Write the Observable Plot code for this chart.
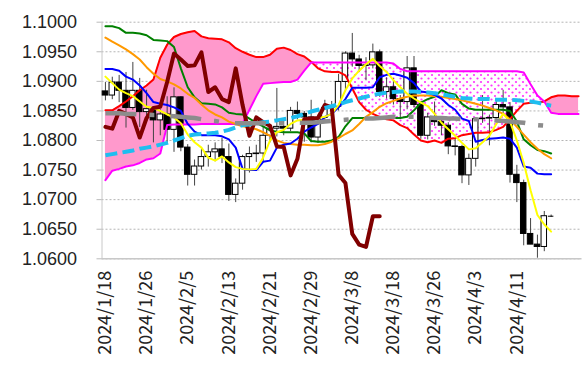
<!DOCTYPE html>
<html><head><meta charset="utf-8">
<script src="https://cdn.jsdelivr.net/npm/d3@7"></script>
<script src="https://cdn.jsdelivr.net/npm/@observablehq/plot@0.6"></script>
<style>
html,body{margin:0;padding:0;background:#fff;}
#chart svg{display:block;}
</style></head><body><div id="chart"></div>
<script>
const dates = ["2024/1/18","2024/1/19","2024/1/22","2024/1/23","2024/1/24","2024/1/25","2024/1/26","2024/1/29","2024/1/30","2024/1/31","2024/2/1","2024/2/2","2024/2/5","2024/2/6","2024/2/7","2024/2/8","2024/2/9","2024/2/12","2024/2/13","2024/2/14","2024/2/15","2024/2/16","2024/2/19","2024/2/20","2024/2/21","2024/2/22","2024/2/23","2024/2/26","2024/2/27","2024/2/28","2024/2/29","2024/3/1","2024/3/4","2024/3/5","2024/3/6","2024/3/7","2024/3/8","2024/3/11","2024/3/12","2024/3/13","2024/3/14","2024/3/15","2024/3/18","2024/3/19","2024/3/20","2024/3/21","2024/3/22","2024/3/25","2024/3/26","2024/3/27","2024/3/28","2024/3/29","2024/4/1","2024/4/2","2024/4/3","2024/4/4","2024/4/5","2024/4/8","2024/4/9","2024/4/10","2024/4/11","2024/4/12","2024/4/15","2024/4/16","2024/4/17","2024/4/18","2024/4/19","2024/4/22","2024/4/23","2024/4/24"];
const xTickIndex = [0,6,12,18,24,30,36,42,48,54,60];
const xTickLabels = ["2024/1/18","2024/1/26","2024/2/5","2024/2/13","2024/2/21","2024/2/29","2024/3/8","2024/3/18","2024/3/26","2024/4/3","2024/4/11"];
const yTicks = [1.06,1.065,1.07,1.075,1.08,1.085,1.09,1.095,1.10];

const open = [1.0883,1.0876,1.0898,1.0884,1.0855,1.0884,1.0848,1.0853,1.0834,1.0844,1.0818,1.0873,1.0788,1.0742,1.0756,1.0772,1.0780,1.0785,1.0772,1.0708,1.0727,1.0772,1.0777,1.0778,1.0808,1.0820,1.0823,1.0820,1.0850,1.0845,1.0839,1.0805,1.0838,1.0855,1.0857,1.0899,1.0947,1.0937,1.0926,1.0927,1.0949,1.0882,1.0890,1.0870,1.0865,1.0922,1.0860,1.0808,1.0839,1.0831,1.0825,1.0790,1.0789,1.0741,1.0769,1.0836,1.0837,1.0838,1.0860,1.0856,1.0742,1.0728,1.0642,1.0624,1.0620,1.0672];
const high = [1.0898,1.0907,1.0910,1.0915,1.0932,1.0905,1.0885,1.0855,1.0852,1.0874,1.0889,1.0874,1.0793,1.0767,1.0785,1.0792,1.0796,1.0804,1.0794,1.0735,1.0775,1.0789,1.0792,1.0824,1.0824,1.0888,1.0836,1.0856,1.0865,1.0849,1.0868,1.0843,1.0868,1.0866,1.0912,1.0950,1.0981,1.0944,1.0940,1.0963,1.0953,1.0906,1.0905,1.0876,1.0942,1.0942,1.0866,1.0846,1.0865,1.0838,1.0830,1.0803,1.0792,1.0777,1.0837,1.0876,1.0843,1.0867,1.0885,1.0864,1.0758,1.0733,1.0668,1.0640,1.0680,1.0674];
const low = [1.0867,1.0869,1.0864,1.0821,1.0851,1.0822,1.0838,1.0796,1.0808,1.0795,1.0780,1.0781,1.0723,1.0723,1.0750,1.0755,1.0764,1.0761,1.0697,1.0695,1.0716,1.0745,1.0763,1.0762,1.0796,1.0806,1.0808,1.0815,1.0835,1.0797,1.0796,1.0795,1.0830,1.0837,1.0850,1.0882,1.0924,1.0915,1.0901,1.0921,1.0873,1.0870,1.0860,1.0837,1.0852,1.0855,1.0802,1.0801,1.0824,1.0808,1.0776,1.0774,1.0727,1.0724,1.0755,1.0829,1.0791,1.0830,1.0845,1.0728,1.0695,1.0622,1.0624,1.0601,1.0612,1.0670];
const close = [1.0876,1.0898,1.0884,1.0855,1.0884,1.0848,1.0853,1.0834,1.0844,1.0818,1.0873,1.0788,1.0742,1.0756,1.0772,1.0780,1.0785,1.0772,1.0708,1.0727,1.0772,1.0777,1.0778,1.0808,1.0820,1.0823,1.0820,1.0850,1.0845,1.0839,1.0805,1.0838,1.0855,1.0857,1.0899,1.0947,1.0937,1.0926,1.0927,1.0949,1.0882,1.0890,1.0870,1.0865,1.0922,1.0860,1.0808,1.0839,1.0831,1.0825,1.0790,1.0789,1.0741,1.0769,1.0836,1.0837,1.0838,1.0860,1.0856,1.0742,1.0728,1.0642,1.0624,1.0620,1.0672,1.0672];

const yellowLine = [1.0908,1.0897,1.0886,1.0880,1.0875,1.0866,1.0857,1.0855,1.0850,1.0844,1.0839,1.0829,1.0810,1.0797,1.0788,1.0771,1.0766,1.0773,1.0763,1.0755,1.0752,1.0751,1.0752,1.0771,1.0800,1.0814,1.0818,1.0828,1.0834,1.0835,1.0836,1.0838,1.0840,1.0845,1.0860,1.0885,1.0905,1.0918,1.0929,1.0938,1.0926,1.0916,1.0902,1.0890,1.0879,1.0871,1.0864,1.0858,1.0845,1.0830,1.0819,1.0808,1.0796,1.0785,1.0787,1.0797,1.0808,1.0828,1.0845,1.0832,1.0800,1.0762,1.0716,1.0674,1.0658,1.0646];
const blueLine = [1.0921,1.0921,1.0918,1.0908,1.0903,1.0893,1.0880,1.0865,1.0862,1.0860,1.0856,1.0850,1.0828,1.0815,1.0809,1.0809,1.0809,1.0807,1.0802,1.0788,1.0752,1.0750,1.0750,1.0764,1.0766,1.0788,1.0793,1.0795,1.0803,1.0815,1.0822,1.0828,1.0840,1.0845,1.0856,1.0870,1.0889,1.0889,1.0889,1.0890,1.0907,1.0911,1.0913,1.0910,1.0906,1.0897,1.0883,1.0881,1.0877,1.0871,1.0860,1.0852,1.0837,1.0833,1.0798,1.0801,1.0803,1.0804,1.0805,1.0803,1.0788,1.0756,1.0754,1.0744,1.0743,1.0743];
const greenLine = [1.0993,1.0993,1.0990,1.0982,1.0982,1.0981,1.0978,1.0970,1.0969,1.0968,1.0958,1.0922,1.0890,1.0873,1.0863,1.0862,1.0861,1.0856,1.0847,1.0845,1.0844,1.0837,1.0830,1.0824,1.0817,1.0815,1.0814,1.0814,1.0814,1.0812,1.0799,1.0798,1.0798,1.0800,1.0806,1.0824,1.0838,1.0838,1.0838,1.0838,1.0838,1.0838,1.0838,1.0838,1.0840,1.0851,1.0864,1.0870,1.0874,1.0885,1.0880,1.0878,1.0862,1.0854,1.0852,1.0852,1.0852,1.0852,1.0852,1.0850,1.0832,1.0802,1.0792,1.0784,1.0782,1.0778];
const orangeLine = [1.0974,1.0967,1.0961,1.0954,1.0946,1.0937,1.0924,1.0913,1.0904,1.0900,1.0895,1.0888,1.0879,1.0872,1.0861,1.0851,1.0844,1.0839,1.0832,1.0828,1.0824,1.0822,1.0819,1.0814,1.0808,1.0800,1.0796,1.0794,1.0793,1.0793,1.0792,1.0792,1.0794,1.0798,1.0804,1.0811,1.0817,1.0828,1.0840,1.0848,1.0857,1.0863,1.0867,1.0871,1.0874,1.0876,1.0876,1.0876,1.0875,1.0874,1.0872,1.0870,1.0868,1.0865,1.0862,1.0859,1.0855,1.0851,1.0845,1.0836,1.0823,1.0810,1.0797,1.0786,1.0777,1.0770];
const cyanLine = [1.0775,1.0777,1.0779,1.0781,1.0783,1.0786,1.0788,1.0790,1.0793,1.0796,1.0800,1.0804,1.0808,1.0810,1.0811,1.0812,1.0813,1.0815,1.0818,1.0822,1.0826,1.0827,1.0829,1.0831,1.0832,1.0834,1.0836,1.0838,1.0841,1.0845,1.0849,1.0852,1.0855,1.0858,1.0861,1.0865,1.0868,1.0871,1.0874,1.0877,1.0879,1.0881,1.0882,1.0883,1.0883,1.0883,1.0882,1.0881,1.0880,1.0878,1.0876,1.0874,1.0872,1.0871,1.0870,1.0870,1.0870,1.0869,1.0869,1.0869,1.0868,1.0867,1.0866,1.0864,1.0861,1.0859];
const grayLine = [1.0846,1.0846,1.0846,1.0845,1.0845,1.0844,1.0844,1.0843,1.0843,1.0842,1.0841,1.0840,1.0839,1.0838,1.0836,1.0834,1.0833,1.0831,1.0830,1.0829,1.0829,1.0829,1.0829,1.0829,1.0829,1.0829,1.0829,1.0830,1.0830,1.0830,1.0830,1.0831,1.0832,1.0833,1.0834,1.0835,1.0836,1.0837,1.0837,1.0837,1.0838,1.0839,1.0840,1.0840,1.0840,1.0840,1.0839,1.0839,1.0838,1.0838,1.0837,1.0837,1.0836,1.0836,1.0836,1.0835,1.0835,1.0834,1.0833,1.0832,1.0831,1.0830,1.0828,1.0826,1.0825,1.0824];
const spanA = [1.0851,1.0851,1.0858,1.0866,1.0875,1.0885,1.0893,1.0903,1.0940,1.0962,1.0975,1.0980,1.0983,1.0985,1.0976,1.0973,1.0972,1.0971,1.0966,1.0956,1.0950,1.0945,1.0941,1.0941,1.0945,1.0955,1.0957,1.0953,1.0946,1.0942,1.0933,1.0922,1.0917,1.0916,1.0916,1.0910,1.0888,1.0865,1.0852,1.0845,1.0840,1.0836,1.0834,1.0826,1.0821,1.0810,1.0800,1.0797,1.0800,1.0796,1.0803,1.0804,1.0809,1.0811,1.0813,1.0813,1.0814,1.0818,1.0823,1.0836,1.0850,1.0862,1.0864,1.0864,1.0866,1.0873,1.0876,1.0876,1.0875,1.0875];
const spanB = [1.0733,1.0749,1.0752,1.0756,1.0758,1.0762,1.0768,1.0770,1.0778,1.0826,1.0827,1.0827,1.0827,1.0827,1.0828,1.0828,1.0828,1.0828,1.0828,1.0828,1.0829,1.0852,1.0875,1.0896,1.0897,1.0898,1.0899,1.0899,1.0903,1.0918,1.0932,1.0932,1.0932,1.0932,1.0932,1.0932,1.0932,1.0932,1.0932,1.0932,1.0932,1.0932,1.0930,1.0921,1.0917,1.0917,1.0917,1.0917,1.0917,1.0917,1.0917,1.0917,1.0917,1.0917,1.0917,1.0917,1.0917,1.0917,1.0917,1.0917,1.0917,1.0915,1.0895,1.0876,1.0866,1.0847,1.0845,1.0845,1.0845,1.0845];
const chikou = [1.0823,1.0820,1.0850,1.0845,1.0839,1.0805,1.0838,1.0855,1.0857,1.0899,1.0947,1.0937,1.0926,1.0927,1.0949,1.0882,1.0890,1.0870,1.0865,1.0922,1.0860,1.0808,1.0839,1.0831,1.0825,1.0790,1.0789,1.0741,1.0769,1.0836,1.0837,1.0838,1.0860,1.0856,1.0742,1.0728,1.0642,1.0624,1.0620,1.0672,1.0672];

const candles = close.map((c, i) => ({i, date: dates[i], o: open[i], h: high[i], l: low[i], c}));
const up = candles.filter(d => d.c > d.o);
const down = candles.filter(d => d.c < d.o);
const doji = candles.filter(d => d.c === d.o);
const cloud = spanA.map((a, i) => ({i, a, b: spanB[i], top: Math.max(a, spanB[i])}));
const series = arr => arr.map((v, i) => ({i, v}));
const halfW = 0.4;

const lineOpts = (stroke, w, extra = {}) => Object.assign({x: "i", y: "v", stroke, strokeWidth: w, strokeLinejoin: "round", strokeLinecap: "round"}, extra);

const chart = Plot.plot({
  width: 583,
  height: 379,
  marginLeft: 101.5,
  marginRight: 1.5,
  marginTop: 21.7,
  marginBottom: 120.7,
  x: {type: "linear", domain: [-0.5, 69.5], axis: null},
  y: {domain: [1.06, 1.10], axis: null},
  style: {fontFamily: "'Noto Sans CJK JP', 'Liberation Sans', sans-serif", background: "#fff", overflow: "visible"},
  marks: [
    Plot.gridY(yTicks, {stroke: "#b4b4b4", strokeOpacity: 1, strokeDasharray: "2,2"}),
    Plot.areaY(cloud, {x: "i", y1: "b", y2: "top", fill: "#FF99CC"}),
    Plot.areaY(cloud, {x: "i", y1: "a", y2: "top", fill: "url(#dots)"}),
    Plot.ruleX([-0.5], {stroke: "#c8c8c8"}),
    Plot.ruleY([1.06], {stroke: "#c8c8c8", strokeWidth: 1.5}),
    Plot.ruleX(candles, {x: "i", y1: "l", y2: "h", stroke: "#444", strokeWidth: 1}),
    Plot.rect(up, {x1: d => d.i - halfW, x2: d => d.i + halfW, y1: "o", y2: "c", fill: "#fff", stroke: "#000", strokeWidth: 1}),
    Plot.rect(down, {x1: d => d.i - halfW, x2: d => d.i + halfW, y1: "o", y2: "c", fill: "#000", stroke: "#000", strokeWidth: 1}),
    Plot.ruleY(doji, {x1: d => d.i - halfW, x2: d => d.i + halfW, y: "c", stroke: "#000", strokeWidth: 1}),
    Plot.line(series(spanA), lineOpts("#FF0000", 2)),
    Plot.line(series(spanB), lineOpts("#FF00FF", 2)),
    Plot.line(series(greenLine), lineOpts("#008000", 2)),
    Plot.line(series(orangeLine), lineOpts("#FF9900", 2)),
    Plot.line(series(blueLine), lineOpts("#0000FF", 2)),
    Plot.line(series(yellowLine), lineOpts("#FFFF00", 2)),
    Plot.line(series(chikou), lineOpts("#800000", 4)),
    Plot.line(series(cyanLine), lineOpts("#1EBEF0", 4, {strokeDasharray: "12,5.3", strokeLinecap: "butt"})),
    Plot.line(series(grayLine), lineOpts("#8C8C8C", 4.5, {strokeDasharray: "31,13,5,16", strokeLinecap: "butt"})),
    Plot.axisY(yTicks, {anchor: "left", label: null, tickSize: 5, tickPadding: 20, stroke: "#bbb", fill: "#222", fontSize: 18, fontFamily: "'Liberation Sans', sans-serif", tickFormat: d => d.toFixed(4)}),
    Plot.axisX(xTickIndex, {anchor: "bottom", label: null, tickSize: 0, tickPadding: 12, tickRotate: -90, fill: "#222", fontSize: 18, tickFormat: d => xTickLabels[xTickIndex.indexOf(d)]})
  ]
});

const ns = "http://www.w3.org/2000/svg";
const defs = document.createElementNS(ns, "defs");
defs.innerHTML = '<pattern id="dots" width="7" height="7" patternUnits="userSpaceOnUse"><rect width="7" height="7" fill="#fff"/><circle cx="1.5" cy="1.5" r="1.1" fill="#FF33FF"/><circle cx="5" cy="5" r="1.1" fill="#FF33FF"/></pattern>';
chart.insertBefore(defs, chart.firstChild);
document.getElementById("chart").appendChild(chart);
</script>
</body></html>
